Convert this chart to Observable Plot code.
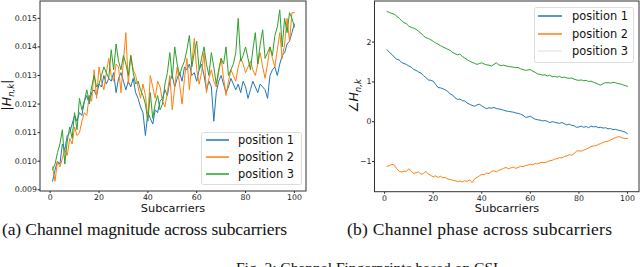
<!DOCTYPE html>
<html><head><meta charset="utf-8">
<script src="https://cdn.jsdelivr.net/npm/d3@7"></script>
<script src="https://cdn.jsdelivr.net/npm/@observablehq/plot@0.6"></script>
<style>
body{margin:0;background:#fff;}
#page{position:relative;width:640px;height:267px;overflow:hidden;background:#fff;}
#page svg{position:absolute;top:0;overflow:visible;}
</style></head><body><div id="page"></div>
<script>
const subcarriers = d3.range(1, 101);

const magPos1 = [0.0093,0.0097,0.0100,0.0099,0.0106,0.0104,0.0109,0.0110,0.0113,0.0116,
0.0114,0.0117,0.0116,0.0121,0.0123,0.0120,0.0124,0.0125,0.0123,0.0127,
0.0126,0.0130,0.0127,0.0129,0.0128,0.0131,0.0124,0.0129,0.0131,0.0128,
0.0125,0.0128,0.0126,0.0129,0.0124,0.0122,0.0119,0.0117,0.0109,0.0117,
0.0115,0.0113,0.0118,0.0117,0.0121,0.0122,0.0125,0.0123,0.0128,0.0130,
0.0126,0.0129,0.0131,0.0128,0.0133,0.0132,0.0134,0.0130,0.0131,0.0128,
0.0132,0.0134,0.0130,0.0125,0.0128,0.0126,0.0114,0.0124,0.0128,0.0130,
0.0127,0.0124,0.0126,0.0129,0.0127,0.0125,0.0127,0.0124,0.0128,0.0126,
0.0122,0.0125,0.0128,0.0126,0.0124,0.0127,0.0126,0.0125,0.0122,0.0130,
0.0132,0.0133,0.0130,0.0134,0.0137,0.0138,0.0141,0.0142,0.0145,0.0148];

const magPos2 = [0.0098,0.0093,0.0100,0.0098,0.0101,0.0104,0.0102,0.0108,0.0106,0.0112,
0.0109,0.0110,0.0114,0.0117,0.0116,0.0123,0.0121,0.0132,0.0122,0.0133,
0.0128,0.0125,0.0131,0.0136,0.0130,0.0128,0.0134,0.0133,0.0124,0.0135,
0.0145,0.0127,0.0137,0.0132,0.0130,0.0126,0.0122,0.0127,0.0123,0.0115,
0.0130,0.0126,0.0122,0.0128,0.0126,0.0121,0.0119,0.0124,0.0130,0.0118,
0.0126,0.0133,0.0127,0.0120,0.0129,0.0136,0.0125,0.0134,0.0143,0.0132,
0.0127,0.0131,0.0138,0.0124,0.0129,0.0132,0.0128,0.0126,0.0131,0.0136,
0.0129,0.0123,0.0128,0.0132,0.0130,0.0128,0.0133,0.0136,0.0134,0.0131,
0.0133,0.0135,0.0132,0.0130,0.0134,0.0138,0.0133,0.0129,0.0134,0.0140,
0.0136,0.0133,0.0139,0.0145,0.0136,0.0141,0.0150,0.0142,0.0152,0.0152];

const magPos3 = [0.0097,0.0099,0.0103,0.0106,0.0111,0.0099,0.0107,0.0112,0.0108,0.0117,
0.0111,0.0122,0.0118,0.0121,0.0125,0.0121,0.0126,0.0130,0.0126,0.0127,
0.0130,0.0133,0.0131,0.0129,0.0139,0.0132,0.0141,0.0135,0.0132,0.0137,
0.0134,0.0130,0.0137,0.0131,0.0127,0.0128,0.0125,0.0123,0.0120,0.0114,
0.0124,0.0115,0.0120,0.0123,0.0118,0.0120,0.0127,0.0131,0.0138,0.0129,
0.0140,0.0134,0.0130,0.0133,0.0135,0.0139,0.0144,0.0133,0.0138,0.0142,
0.0132,0.0136,0.0140,0.0134,0.0130,0.0138,0.0133,0.0127,0.0132,0.0136,
0.0134,0.0140,0.0130,0.0132,0.0134,0.0138,0.0150,0.0135,0.0137,0.0140,
0.0136,0.0132,0.0139,0.0145,0.0134,0.0141,0.0146,0.0136,0.0138,0.0140,
0.0137,0.0144,0.0147,0.0153,0.0140,0.0150,0.0145,0.0152,0.0150,0.0147];

const phasePos1 = [1.81,1.74,1.69,1.62,1.57,1.55,1.49,1.46,1.44,1.40,
1.37,1.31,1.29,1.25,1.22,1.16,1.11,1.05,1.04,1.02,
0.94,0.86,0.85,0.83,0.80,0.76,0.70,0.67,0.60,0.56,
0.57,0.53,0.52,0.47,0.44,0.41,0.39,0.42,0.44,0.40,
0.36,0.33,0.35,0.34,0.36,0.33,0.32,0.31,0.29,0.27,
0.26,0.25,0.24,0.22,0.21,0.19,0.16,0.11,0.12,0.14,
0.10,0.06,0.05,0.04,0.02,0.03,0.01,-0.02,0.00,-0.01,
-0.03,-0.04,-0.02,-0.05,-0.08,-0.06,-0.09,-0.10,-0.14,-0.13,
-0.11,-0.14,-0.12,-0.15,-0.11,-0.13,-0.12,-0.15,-0.14,-0.16,
-0.15,-0.18,-0.17,-0.20,-0.19,-0.21,-0.22,-0.24,-0.26,-0.30];

const phasePos2 = [-1.12,-1.10,-1.07,-1.09,-1.18,-1.25,-1.26,-1.24,-1.25,-1.18,
-1.24,-1.30,-1.28,-1.26,-1.32,-1.30,-1.25,-1.31,-1.35,-1.38,
-1.36,-1.40,-1.37,-1.41,-1.40,-1.44,-1.45,-1.47,-1.48,-1.50,
-1.49,-1.51,-1.48,-1.50,-1.46,-1.53,-1.44,-1.40,-1.36,-1.32,
-1.33,-1.29,-1.30,-1.25,-1.23,-1.26,-1.22,-1.20,-1.17,-1.15,
-1.18,-1.16,-1.14,-1.17,-1.15,-1.12,-1.13,-1.10,-1.09,-1.07,
-1.08,-1.05,-1.06,-1.03,-1.02,-1.03,-1.00,-0.98,-0.97,-0.94,
-0.93,-0.90,-0.91,-0.87,-0.86,-0.83,-0.84,-0.80,-0.74,-0.73,
-0.74,-0.71,-0.69,-0.66,-0.62,-0.61,-0.60,-0.57,-0.55,-0.52,
-0.50,-0.49,-0.46,-0.43,-0.40,-0.38,-0.38,-0.41,-0.42,-0.42];

const phasePos3 = [2.77,2.74,2.72,2.70,2.65,2.60,2.54,2.49,2.46,2.40,
2.37,2.35,2.32,2.27,2.22,2.16,2.11,2.09,2.06,2.02,
1.98,1.95,1.91,1.88,1.85,1.82,1.79,1.74,1.71,1.68,
1.70,1.64,1.60,1.56,1.52,1.49,1.47,1.44,1.46,1.48,
1.45,1.43,1.42,1.40,1.44,1.48,1.43,1.41,1.42,1.40,
1.39,1.38,1.37,1.36,1.36,1.33,1.31,1.29,1.30,1.31,
1.27,1.24,1.20,1.19,1.17,1.18,1.15,1.17,1.13,1.14,
1.12,1.14,1.11,1.12,1.10,1.09,1.10,1.07,1.05,1.04,
1.05,1.03,1.04,1.01,1.02,0.99,0.97,0.94,0.92,0.96,
0.98,0.98,0.97,0.99,0.98,0.96,0.95,0.93,0.91,0.89];

const seriesNames = ["position 1", "position 2", "position 3"];
const seriesColors = ["#1f77b4", "#ff7f0e", "#2ca02c"];
const phaseLegendColors = ["#1f77b4", "#ff7f0e", "#e4ebe4"];
const xTicks = [0, 20, 40, 60, 80, 100];
const magTicks = [0.009, 0.010, 0.011, 0.012, 0.013, 0.014, 0.015];
const phaseTicks = [-1, 0, 1, 2];
const xLabel = "Subcarriers";
const captionA = "(a) Channel magnitude across subcarriers";
const captionB = "(b) Channel phase across subcarriers";
const figCaption = "Fig. 2: Channel Fingerprints based on CSI";

function rows(values, name) {
  return subcarriers.map((s, i) => ({x: s, y: values[i], s: name}));
}

function chart(opts) {
  const marks = [];
  opts.series.forEach((vals, i) => {
    marks.push(Plot.line(rows(vals, seriesNames[i]), {x: "x", y: "y", stroke: seriesColors[i], strokeWidth: 1}));
  });
  const W = 320, H = 215;
  const svg = Plot.plot({
    width: W, height: H,
    marginLeft: opts.ml, marginRight: opts.mr, marginTop: 1, marginBottom: opts.mb,
    style: {fontFamily: "DejaVu Sans", fontSize: "7.8px", color: "#222", background: "transparent"},
    x: {domain: [-3.95, 104.95], ticks: xTicks, tickSize: 2, tickPadding: 1, label: null, tickFormat: d3.format("d")},
    y: {domain: opts.yDomain, ticks: opts.yTicks, tickSize: 2.5, tickPadding: 1, label: null, tickFormat: opts.yFormat},
    marks
  });
  svg.style.left = opts.left + "px";
  const g = d3.select(svg);
  // frame
  g.append("rect").attr("x", opts.ml).attr("y", 1).attr("width", W - opts.ml - opts.mr).attr("height", H - 1 - opts.mb)
    .attr("fill", "none").attr("stroke", "#333").attr("stroke-width", 1);
  // x label
  g.append("text").attr("x", opts.xl).attr("y", 212).attr("text-anchor", "middle")
    .attr("font-family", "DejaVu Sans").attr("font-size", 11.3).attr("fill", "#111").text(xLabel);
  // y label
  const yl = g.append("text").attr("transform", `translate(${opts.ylx},${opts.yly}) rotate(-90)`)
    .attr("text-anchor", "middle").attr("font-family", "DejaVu Sans").attr("font-size", 12.5).attr("fill", "#111");
  yl.append("tspan").text(opts.yPrefix);
  yl.append("tspan").attr("font-style", "italic").text("H");
  yl.append("tspan").attr("font-style", "italic").attr("font-size", 8.5).attr("dy", 3).text("n,k");
  if (opts.ySuffix) yl.append("tspan").attr("dy", -3).text(opts.ySuffix);
  // legend
  const L = opts.legend;
  g.append("rect").attr("x", L.x).attr("y", L.y).attr("width", L.w).attr("height", L.h).attr("rx", 2)
    .attr("fill", "#fff").attr("fill-opacity", 0.8).attr("stroke", "#dcdcdc").attr("stroke-width", 1);
  seriesNames.forEach((n, i) => {
    const yy = L.rows[i];
    g.append("line").attr("x1", L.lx1).attr("x2", L.lx2).attr("y1", yy).attr("y2", yy)
      .attr("stroke", L.colors[i]).attr("stroke-width", 1.5);
    g.append("text").attr("x", L.tx).attr("y", yy + 4).attr("text-anchor", "start").attr("font-family", "DejaVu Sans")
      .attr("font-size", 11.4).attr("fill", "#111").text(n);
  });
  return svg;
}

const page = document.getElementById("page");

page.appendChild(chart({
  left: 0, ml: 40, mr: 14, mb: 24,
  series: [magPos1, magPos2, magPos3],
  yDomain: [0.00894, 0.01559], yTicks: magTicks, yFormat: d3.format(".3f"),
  xl: 173, ylx: 11, yly: 95, yPrefix: "|", ySuffix: "|",
  legend: {x: 201.5, y: 132.5, w: 100, h: 52, rows: [140, 157, 174], lx1: 206, lx2: 229, tx: 238, colors: seriesColors}
}));

page.appendChild(chart({
  left: 320, ml: 54.5, mr: 1, mb: 23.3,
  series: [phasePos1, phasePos2, phasePos3],
  yDomain: [-1.77, 3.02], yTicks: phaseTicks, yFormat: d3.format("d"),
  xl: 187, ylx: 38, yly: 96, yPrefix: "∠", ySuffix: null,
  legend: {x: 214.5, y: 7.5, w: 99, h: 55, rows: [16, 34, 51], lx1: 218, lx2: 242, tx: 252, colors: phaseLegendColors}
}));

// captions
const cap = d3.select(page).append("svg").attr("width", 640).attr("height", 267).style("left", "0px");
const serif = "Liberation Serif";
cap.append("text").attr("x", 2).attr("y", 235).attr("font-family", serif).attr("font-size", 17.5)
  .attr("textLength", 285).attr("fill", "#111").text(captionA);
cap.append("text").attr("x", 347).attr("y", 235).attr("font-family", serif).attr("font-size", 17.5)
  .attr("textLength", 265).attr("fill", "#111").text(captionB);
cap.append("text").attr("x", 236).attr("y", 273).attr("font-family", serif).attr("font-size", 15.5)
  .attr("fill", "#111").text(figCaption);
</script></body></html>
